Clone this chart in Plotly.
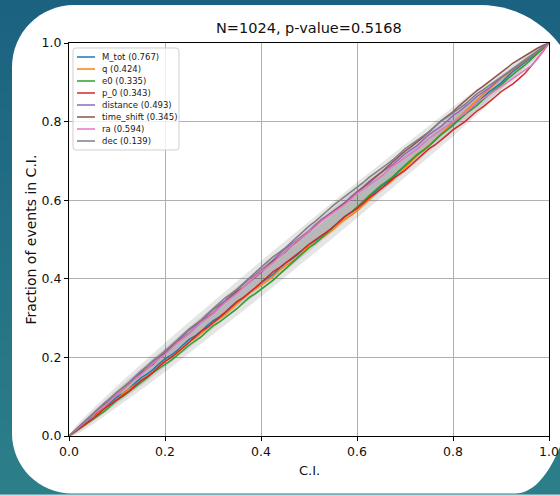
import plotly.graph_objects as go

# ---------------------------------------------------------------------------
# P-P plot data
# ---------------------------------------------------------------------------
n_events = 1024
combined_p = 0.5168

# credible-interval levels at which each curve is sampled (0 .. 1, step 0.0125)
ci_grid = [round(i * 0.0125, 4) for i in range(81)]

param_names = ["M_tot", "q", "e0", "p_0", "distance", "time_shift", "ra", "dec"]
param_pvalues = [0.767, 0.424, 0.335, 0.343, 0.493, 0.345, 0.594, 0.139]

# offset of each curve from the diagonal, in thousandths of the event fraction
offset_M_tot = [0, -1, -2, 0, 1, -2, -3, -1, -1, -4, -5, -3, -2, -5, -6, -4, -4, -7, -8, -6,
                -5, -8, -9, -7, -7, -10, -11, -9, -8, -11, -12, -11, -10, -13, -14, -12, -11,
                -14, -15, -13, -13, -16, -17, -19, -19, -17, -16, -19, -21, -20, -18, -16,
                -15, -17, -17, -14, -13, -11, -10, -12, -12, -10, -8, -6, -5, -7, -7, -4,
                -3, -1, 1, -1, -2, 1, 3, 2, 1, 0, -1, -1, 0]
offset_q = [0, -1, -2, -4, -5, -3, -3, -6, -7, -5, -5, -8, -9, -11, -12, -10, -10, -13, -14,
            -12, -11, -14, -15, -14, -13, -16, -17, -15, -15, -13, -12, -15, -16, -18, -19,
            -17, -17, -20, -21, -19, -18, -21, -22, -24, -25, -23, -23, -26, -27, -25, -24,
            -22, -21, -23, -23, -20, -17, -15, -13, -12, -10, -8, -6, -5, -3, -1, 1, 3, 4,
            6, 8, 9, 10, 8, 7, 6, 5, 3, 2, 1, 0]
offset_e0 = [0, -2, -4, -5, -8, -9, -11, -10, -9, -12, -13, -15, -16, -15, -14, -17, -18, -20,
             -21, -20, -19, -22, -23, -21, -20, -23, -24, -26, -26, -24, -23, -26, -27, -29,
             -29, -27, -26, -25, -24, -22, -21, -23, -23, -21, -19, -17, -16, -18, -18, -16,
             -14, -13, -12, -14, -15, -13, -11, -10, -9, -11, -12, -10, -8, -9, -10, -8, -6,
             -8, -9, -7, -5, -6, -7, -5, -4, -5, -6, -4, -3, -2, 0]
offset_p_0 = [0, -2, -3, -5, -6, -5, -4, -6, -8, -10, -11, -10, -9, -12, -13, -11, -10, -13,
              -14, -13, -12, -10, -9, -12, -13, -12, -11, -9, -8, -11, -12, -11, -10, -8, -7,
              -10, -11, -13, -14, -13, -12, -15, -16, -18, -19, -18, -17, -20, -21, -20, -19,
              -21, -22, -21, -20, -23, -24, -23, -22, -20, -19, -22, -23, -22, -21, -24, -25,
              -24, -23, -25, -26, -25, -24, -27, -29, -28, -27, -22, -16, -9, 0]
offset_distance = [0, 2, 3, 5, 7, 9, 10, 9, 8, 10, 12, 14, 15, 14, 13, 15, 17, 16, 15, 17,
                   19, 18, 17, 19, 21, 20, 19, 21, 22, 23, 24, 22, 21, 22, 23, 25, 26, 25, 24,
                   23, 22, 24, 25, 23, 21, 20, 19, 21, 22, 20, 18, 19, 20, 18, 16, 17, 18, 16,
                   14, 16, 17, 15, 13, 14, 15, 13, 12, 13, 14, 12, 10, 11, 12, 10, 9, 7, 6, 5,
                   4, 2, 0]
offset_time_shift = [0, 1, 2, 3, 4, 6, 7, 6, 5, 7, 9, 10, 11, 9, 8, 10, 12, 13, 14, 12, 11,
                     13, 15, 14, 13, 15, 16, 17, 18, 16, 15, 16, 17, 19, 20, 19, 18, 20, 21,
                     20, 19, 21, 22, 21, 20, 18, 17, 18, 19, 21, 22, 21, 20, 22, 23, 24, 25,
                     23, 22, 23, 24, 26, 27, 26, 25, 27, 28, 29, 29, 27, 26, 24, 23, 24, 24,
                     21, 18, 15, 11, 6, 0]
offset_ra = [0, 1, 2, 4, 5, 4, 3, 5, 7, 8, 9, 7, 6, 8, 10, 9, 8, 10, 12, 11, 10, 12, 14, 12,
             11, 13, 15, 14, 13, 15, 17, 18, 19, 17, 16, 18, 20, 21, 22, 20, 19, 20, 21, 19,
             18, 16, 15, 16, 17, 15, 13, 11, 10, 11, 12, 10, 8, 6, 5, 6, 7, 5, 3, 1, 0, -2,
             -4, -3, -2, -4, -7, -9, -11, -13, -15, -17, -20, -21, -17, -10, 0]
offset_dec = [0, 2, 3, 5, 6, 8, 9, 11, 12, 11, 10, 12, 14, 16, 17, 16, 15, 17, 19, 21, 22,
              21, 20, 22, 24, 25, 26, 24, 23, 25, 27, 28, 29, 30, 31, 29, 28, 30, 32, 33, 34,
              33, 33, 35, 36, 35, 34, 32, 31, 32, 33, 31, 30, 29, 28, 30, 31, 29, 27, 25, 24,
              25, 26, 24, 22, 20, 19, 20, 21, 18, 16, 14, 13, 11, 10, 8, 7, 5, 4, 2, 0]

offsets = [offset_M_tot, offset_q, offset_e0, offset_p_0,
           offset_distance, offset_time_shift, offset_ra, offset_dec]

# confidence bands (half widths around the diagonal) for 68 / 95 / 99.7 %
band_grid = [0.00, 0.01, 0.025, 0.05, 0.10, 0.15, 0.20, 0.25, 0.30, 0.35, 0.40, 0.45,
             0.50, 0.55, 0.60, 0.65, 0.70, 0.75, 0.80, 0.85, 0.90, 0.95, 0.975, 0.99, 1.00]
band_68 = [0.0, 0.0031, 0.0049, 0.0068, 0.0093, 0.0111, 0.0124, 0.0135, 0.0142, 0.0148,
           0.0152, 0.0155, 0.0155, 0.0155, 0.0152, 0.0148, 0.0142, 0.0135, 0.0124,
           0.0111, 0.0093, 0.0068, 0.0049, 0.0031, 0.0]
band_95 = [0.0, 0.0061, 0.0096, 0.0133, 0.0184, 0.0219, 0.0245, 0.0265, 0.0281, 0.0292,
           0.0300, 0.0305, 0.0306, 0.0305, 0.0300, 0.0292, 0.0281, 0.0265, 0.0245,
           0.0219, 0.0184, 0.0133, 0.0096, 0.0061, 0.0]
band_997 = [0.0, 0.0093, 0.0146, 0.0202, 0.0278, 0.0331, 0.0371, 0.0402, 0.0425, 0.0443,
            0.0455, 0.0462, 0.0464, 0.0462, 0.0455, 0.0443, 0.0425, 0.0402, 0.0371,
            0.0331, 0.0278, 0.0202, 0.0146, 0.0093, 0.0]

tick_vals = [0.0, 0.2, 0.4, 0.6, 0.8, 1.0]
line_colors = ["#1f77b4", "#ff7f0e", "#2ca02c", "#d62728",
               "#9467bd", "#8c564b", "#e377c2", "#7f7f7f"]

# ---------------------------------------------------------------------------
# page geometry (pixels) and helpers to convert to paper coordinates
# ---------------------------------------------------------------------------
W, H = 560, 496
ML, MR, MT, MB = 69, 11, 43, 60
PW, PH = W - ML - MR, H - MT - MB
FONT = "DejaVu Sans"


def px(xp):
    return (xp - ML) / PW


def py(yp):
    return (H - MB - yp) / PH


def P(xp, yp):
    return f"{px(xp):.5f},{py(yp):.5f}"


fig = go.Figure()

# shaded confidence regions
for half in (band_68, band_95, band_997):
    upper = [min(1.0, g + h) for g, h in zip(band_grid, half)]
    lower = [max(0.0, g - h) for g, h in zip(band_grid, half)]
    fig.add_trace(go.Scatter(
        x=band_grid + band_grid[::-1],
        y=upper + lower[::-1],
        fill="toself", mode="lines",
        line=dict(width=0, color="rgba(0,0,0,0)"),
        fillcolor="rgba(0,0,0,0.1)",
        hoverinfo="skip", showlegend=False,
    ))

# one P-P curve per parameter
for name, off, col in zip(param_names, offsets, line_colors):
    frac = [c + o / 1000 for c, o in zip(ci_grid, off)]
    fig.add_trace(go.Scatter(
        x=ci_grid, y=frac, mode="lines", name=name,
        line=dict(color=col, width=1.5), showlegend=False,
    ))

shapes = []

# teal backdrop with a gentle vertical gradient
top_rgb = (27, 98, 129)
bot_rgb = (44, 127, 137)
n_strips = 32
for i in range(n_strips):
    t = i / (n_strips - 1)
    c = tuple(round(a + (b - a) * t) for a, b in zip(top_rgb, bot_rgb))
    y0 = H * i / n_strips
    y1 = H * (i + 1) / n_strips + 0.5
    shapes.append(dict(type="rect", xref="paper", yref="paper",
                       x0=px(-2), x1=px(W + 2), y0=py(y1), y1=py(y0),
                       fillcolor=f"rgb{c}", line=dict(width=0), layer="below"))

# thin light strip along the bottom edge
shapes.append(dict(type="rect", xref="paper", yref="paper",
                   x0=px(-2), x1=px(W + 2), y0=py(H + 1), y1=py(494.5),
                   fillcolor="#cfdcdf", line=dict(width=0), layer="below"))

# white rounded card
card = ("M " + P(74, 5) + " L " + P(480, 5)
        + " C " + P(535.2, 5) + " " + P(580, 49.8) + " " + P(580, 105)
        + " L " + P(580, 325)
        + " C " + P(580, 418.3) + " " + P(550.9, 493.5) + " " + P(515, 493.5)
        + " L " + P(72, 493.5)
        + " C " + P(38.9, 493.5) + " " + P(12, 466.6) + " " + P(12, 433.5)
        + " L " + P(12, 67)
        + " C " + P(12, 32.8) + " " + P(39.8, 5) + " " + P(74, 5) + " Z")
shapes.append(dict(type="path", xref="paper", yref="paper", path=card,
                   fillcolor="white", line=dict(width=0), layer="below"))

# legend frame
lx0, lx1, ly0, ly1, r = 73, 179, 48, 150, 3
legend_path = ("M " + P(lx0 + r, ly0) + " L " + P(lx1 - r, ly0)
               + " Q " + P(lx1, ly0) + " " + P(lx1, ly0 + r)
               + " L " + P(lx1, ly1 - r)
               + " Q " + P(lx1, ly1) + " " + P(lx1 - r, ly1)
               + " L " + P(lx0 + r, ly1)
               + " Q " + P(lx0, ly1) + " " + P(lx0, ly1 - r)
               + " L " + P(lx0, ly0 + r)
               + " Q " + P(lx0, ly0) + " " + P(lx0 + r, ly0) + " Z")
shapes.append(dict(type="path", xref="paper", yref="paper", path=legend_path,
                   fillcolor="rgba(255,255,255,0.8)",
                   line=dict(color="#d0d0d0", width=1), layer="above"))

annotations = []
row0, row_step = 57, 12
for i, (name, pv, col) in enumerate(zip(param_names, param_pvalues, line_colors)):
    yy = row0 + row_step * i
    shapes.append(dict(type="line", xref="paper", yref="paper",
                       x0=px(77), x1=px(95), y0=py(yy), y1=py(yy),
                       line=dict(color=col, width=1.5), layer="above"))
    annotations.append(dict(text=f"{name} ({pv:.3f})", xref="paper", yref="paper",
                            x=px(100), y=py(yy), xanchor="left", yanchor="middle",
                            showarrow=False,
                            font=dict(family=FONT, size=8.5, color="#1a1a1a")))

# title and axis labels
annotations.append(dict(text=f"N={n_events}, p-value={combined_p:.4f}",
                        xref="paper", yref="paper", x=0.5, y=py(27.5),
                        xanchor="center", yanchor="middle", showarrow=False,
                        font=dict(family=FONT, size=14.5, color="#111111")))
annotations.append(dict(text="C.I.", xref="paper", yref="paper",
                        x=0.5, y=py(470), xanchor="center", yanchor="middle",
                        showarrow=False, font=dict(family=FONT, size=13, color="#111111")))
annotations.append(dict(text="Fraction of events in C.I.", xref="paper", yref="paper",
                        x=px(30.5), y=py(240), xanchor="center", yanchor="middle",
                        textangle=-90, showarrow=False,
                        font=dict(family=FONT, size=14, color="#111111")))

axis_common = dict(range=[0, 1], tickvals=tick_vals, tickformat=".1f",
                   showgrid=True, gridcolor="#b0b0b0", gridwidth=1,
                   showline=True, linecolor="#000000", linewidth=1, mirror=True,
                   ticks="outside", ticklen=4, tickwidth=1, tickcolor="#000000",
                   zeroline=False, fixedrange=True, automargin=False,
                   tickfont=dict(family=FONT, size=12.5, color="#111111"))

fig.update_layout(
    width=W, height=H, autosize=False,
    margin=dict(l=ML, r=MR, t=MT, b=MB, pad=0, autoexpand=False),
    paper_bgcolor="rgb(27,98,129)",
    plot_bgcolor="white",
    xaxis=axis_common,
    yaxis=axis_common,
    shapes=shapes,
    annotations=annotations,
    showlegend=False,
)

fig.write_html("out.html", config={"displayModeBar": False})
